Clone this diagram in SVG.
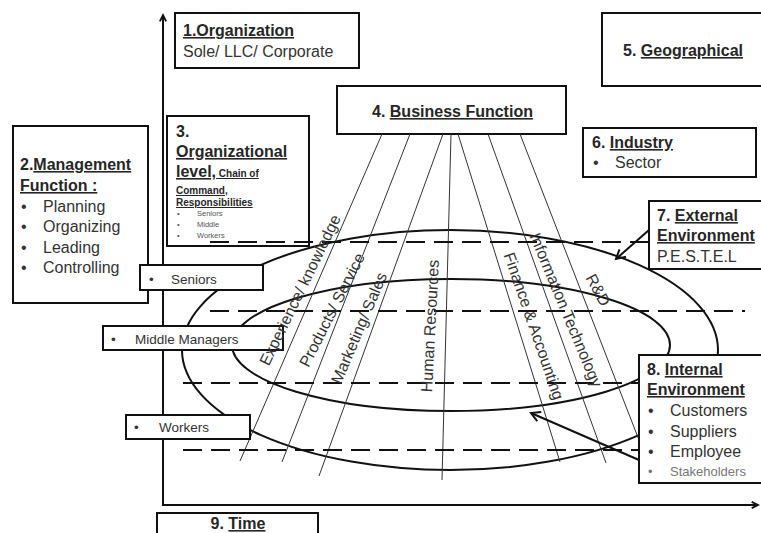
<svg xmlns="http://www.w3.org/2000/svg" width="761" height="533" viewBox="0 0 761 533">
<defs>
<style>
text{font-family:"Liberation Sans",Arial,sans-serif;fill:#262626}
.box{fill:#fff;stroke:#111;stroke-width:2}
.b{font-weight:bold;font-size:16px}
.r{font-size:16px;fill:#333}
.u{text-decoration:underline}
.s{font-size:13.5px;fill:#333}
.sb{font-weight:bold;font-size:10px}
.t{font-size:7.5px;fill:#555}
.ax{stroke:#111;stroke-width:2;fill:none}
.el{stroke:#111;stroke-width:2;fill:none}
.fan{stroke:#333;stroke-width:1;fill:none}
.da{stroke:#111;stroke-width:2;stroke-dasharray:19 9;fill:none}
.lab{font-size:16px;fill:#333;text-anchor:middle;dominant-baseline:central}
</style>
<marker id="ah" viewBox="-1 -6 12 12" refX="9" refY="0" markerWidth="12" markerHeight="12" markerUnits="userSpaceOnUse" orient="auto" overflow="visible">
<path d="M0,-5 L9,0 L0,5" fill="none" stroke="#111" stroke-width="2"/>
</marker>
<marker id="ahs" viewBox="-1 -5 10 10" refX="7" refY="0" markerWidth="9" markerHeight="9" markerUnits="userSpaceOnUse" orient="auto" overflow="visible">
<path d="M0,-3.5 L7,0 L0,3.5" fill="none" stroke="#111" stroke-width="2"/>
</marker>
</defs>
<rect width="761" height="533" fill="#fff"/>

<g id="n1">
<rect class="box" x="175" y="13" width="184" height="55"/>
<text x="183" y="36" class="b"><tspan class="u">1.Organization</tspan></text>
<text x="183" y="57" class="r">Sole/ LLC/ Corporate</text>
</g>

<g id="n2">
<rect class="box" x="13" y="126" width="135" height="177"/>
<text x="20" y="170" class="b">2.<tspan class="u">Management</tspan></text>
<text x="20" y="191" class="b"><tspan class="u">Function :</tspan></text>
<text x="21" y="212" class="r">•</text><text x="43" y="212" class="r">Planning</text>
<text x="21" y="232" class="r">•</text><text x="43" y="232" class="r">Organizing</text>
<text x="21" y="253" class="r">•</text><text x="43" y="253" class="r">Leading</text>
<text x="21" y="273" class="r">•</text><text x="43" y="273" class="r">Controlling</text>
</g>

<g id="n3">
<rect class="box" x="167" y="116" width="142" height="130"/>
<text x="176" y="137" class="b">3.</text>
<text x="176" y="157" class="b"><tspan class="u">Organizational</tspan></text>
<text x="176" y="177" class="b"><tspan class="u">level,</tspan><tspan class="sb u"> Chain of</tspan></text>
<text x="176" y="194" class="sb"><tspan class="u">Command,</tspan></text>
<text x="176" y="206" class="sb"><tspan class="u">Responsibilities</tspan></text>
<text x="177" y="216" class="t">•</text><text x="197" y="216" class="t">Seniors</text>
<text x="177" y="227" class="t">•</text><text x="197" y="227" class="t">Middle</text>
<text x="177" y="238" class="t">•</text><text x="197" y="238" class="t">Workers</text>
</g>

<g id="n4">
<rect class="box" x="337" y="86" width="229" height="48"/>
<text x="372" y="117" class="b">4. <tspan class="u">Business Function</tspan></text>
</g>

<g id="n5">
<rect class="box" x="602" y="13" width="162" height="73"/>
<text x="623" y="56" class="b">5. <tspan class="u">Geographical</tspan></text>
</g>

<g id="n6">
<rect class="box" x="583" y="128" width="173" height="49"/>
<text x="592" y="148" class="b">6. <tspan class="u">Industry</tspan></text>
<text x="593" y="168" class="r">•</text><text x="615" y="168" class="r">Sector</text>
</g>

<g id="n9">
<rect class="box" x="157" y="513" width="161" height="30"/>
<text x="238" y="529" class="b" text-anchor="middle">9. <tspan class="u">Time</tspan></text>
</g>

<g id="connectors">
<line class="ax" x1="163" y1="505" x2="163" y2="15" marker-end="url(#ahs)"/>
<line class="ax" x1="162" y1="505" x2="758" y2="505" marker-end="url(#ahs)"/>
<ellipse class="el" cx="450" cy="350" rx="268" ry="120"/>
<ellipse class="el" cx="451" cy="345" rx="219" ry="66"/>
<line class="fan" x1="382" y1="134" x2="240" y2="461"/>
<line class="fan" x1="410" y1="134" x2="282" y2="462"/>
<line class="fan" x1="443" y1="134" x2="319" y2="476"/>
<line class="fan" x1="451" y1="134" x2="442" y2="480"/>
<line class="fan" x1="458" y1="134" x2="560" y2="462"/>
<line class="fan" x1="488" y1="134" x2="606" y2="463"/>
<line class="fan" x1="520" y1="134" x2="639" y2="440"/>
<line class="da" x1="210" y1="242" x2="649" y2="242"/>
<line class="da" x1="210" y1="311" x2="745" y2="311"/>
<line class="da" x1="183" y1="383" x2="639" y2="383"/>
<line class="da" x1="183" y1="450" x2="639" y2="450"/>
<line class="ax" x1="649" y1="230" x2="616" y2="259" marker-end="url(#ah)"/>
<line class="ax" x1="639" y1="460" x2="531" y2="413" marker-end="url(#ah)"/>
</g>

<g id="n10">
<rect class="box" x="140" y="265" width="123" height="25"/>
<text x="149" y="284" class="s">•</text><text x="171" y="284" class="s">Seniors</text>
</g>
<g id="n11">
<rect class="box" x="103" y="326" width="180" height="24"/>
<text x="111" y="344" class="s">•</text><text x="135" y="344" class="s">Middle Managers</text>
</g>
<g id="n12">
<rect class="box" x="126" y="415" width="124" height="24"/>
<text x="134" y="432" class="s">•</text><text x="159" y="432" class="s">Workers</text>
</g>

<g id="n7">
<rect class="box" x="649" y="201" width="115" height="68"/>
<text x="657" y="221" class="b">7. <tspan class="u">External</tspan></text>
<text x="657" y="241" class="b"><tspan class="u">Environment</tspan></text>
<text x="657" y="262" class="r">P.E.S.T.E.L</text>
</g>

<g id="n8">
<rect class="box" x="639" y="355" width="125" height="128"/>
<text x="647" y="375" class="b">8. <tspan class="u">Internal</tspan></text>
<text x="647" y="395" class="b"><tspan class="u">Environment</tspan></text>
<text x="648" y="416" class="r">•</text><text x="670" y="416" class="r">Customers</text>
<text x="648" y="437" class="r">•</text><text x="670" y="437" class="r">Suppliers</text>
<text x="648" y="457" class="r">•</text><text x="670" y="457" class="r">Employee</text>
<text x="648" y="476" class="r" style="font-size:13px;fill:#777">•</text><text x="670" y="476" class="r" style="font-size:13px;fill:#777">Stakeholders</text>
</g>

<g id="labels">
<text class="lab" transform="translate(300,290) rotate(-64)">Experience/ knowledge</text>
<text class="lab" transform="translate(332,310) rotate(-63)">Products/ Service</text>
<text class="lab" transform="translate(359,328) rotate(-67)">Marketing/ Sales</text>
<text class="lab" transform="translate(430,326) rotate(-87)">Human Resources</text>
<text class="lab" transform="translate(534,326) rotate(71)">Finance &amp; Accounting</text>
<text class="lab" transform="translate(566,310) rotate(67.5)">Information Technology</text>
<text class="lab" transform="translate(598,290) rotate(62)">R&amp;D</text>
</g>
</svg>
